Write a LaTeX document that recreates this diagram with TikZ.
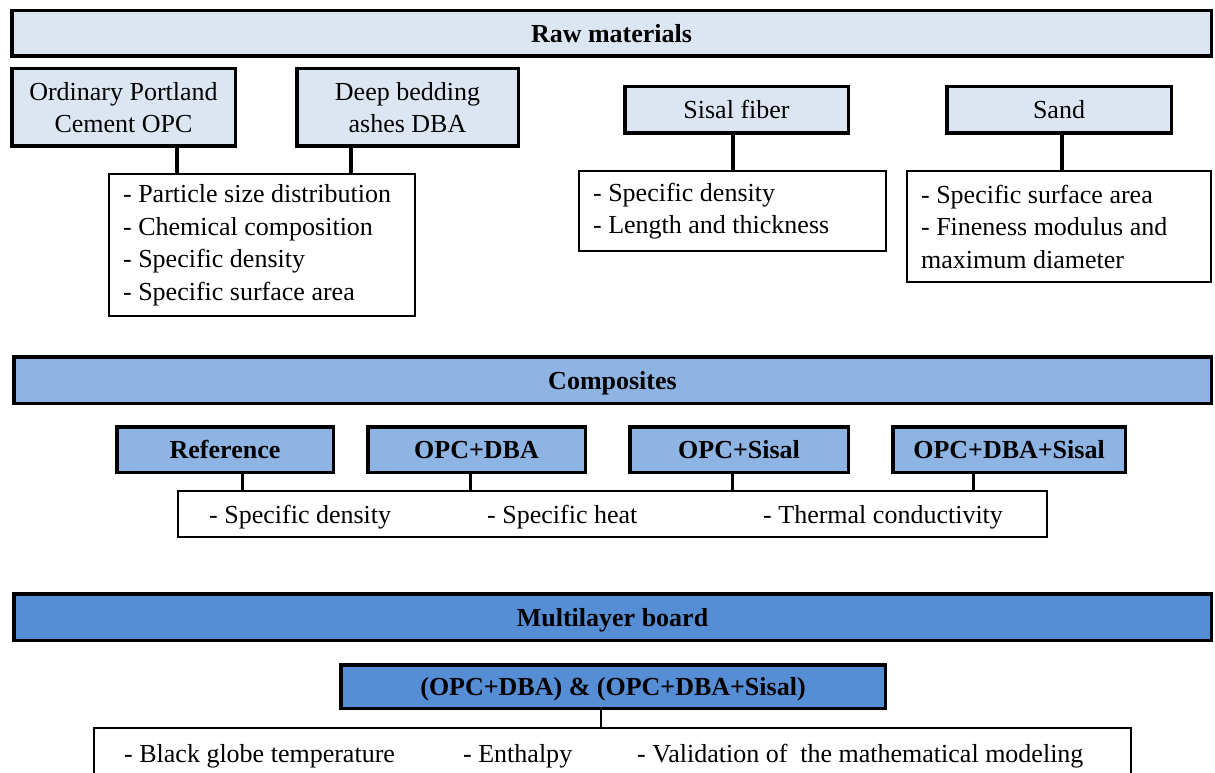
\documentclass[tikz,border=0pt]{standalone}
\usepackage{fontspec}
\setmainfont{Liberation Serif}
\definecolor{lightb}{HTML}{DCE6F2}
\definecolor{midb}{HTML}{8EB4E3}
\definecolor{darkb}{HTML}{558ED5}
\begin{document}
\begin{tikzpicture}[x=1pt,y=-1pt,
  every node/.style={font=\fontsize{26}{32.5}\selectfont, inner sep=0pt},
  hdr/.style={draw=black, line width=3.5pt, font=\fontsize{26}{32.5}\selectfont\bfseries, text height=18pt, text depth=0pt},
  matbox/.style={draw=black, line width=3.5pt, fill=lightb, align=center},
  compbox/.style={draw=black, line width=3.5pt, fill=midb, font=\fontsize{26}{32.5}\selectfont\bfseries, text height=18pt, text depth=0pt},
  propbox/.style={draw=black, line width=2.2pt, fill=white, inner xsep=14pt, align=flush left},
  plain/.style={anchor=base west},
  conn/.style={draw=black, line width=4pt},
  connthin/.style={draw=black, line width=3pt},
]
\useasboundingbox (0,0) rectangle (1215,773);
\clip (0,0) rectangle (1215,773);

% ---------- Raw materials ----------
\node[hdr, fill=lightb, minimum width=1199.5pt, minimum height=45.5pt] (raw) at (611.5,33.5) {Raw materials};

\node[matbox, minimum width=223.5pt, minimum height=77.5pt] (opc) at (123.5,107.5) {Ordinary Portland\\Cement OPC};
\node[matbox, minimum width=221.5pt, minimum height=77.5pt] (dba) at (407.5,107.5) {Deep bedding\\ashes DBA};
\node[propbox, minimum width=305.8pt, minimum height=141.8pt, text width=277.8pt] (p1) at (262,245)
  {\mbox{- Particle size distribution}\\\mbox{- Chemical composition}\\\mbox{- Specific density}\\\mbox{- Specific surface area}};

\node[matbox, minimum width=223.5pt, minimum height=46.5pt, text height=18pt, text depth=0pt] (sis) at (736.5,110) {Sisal fiber};
\node[propbox, minimum width=306.8pt, minimum height=79.8pt, text width=278.8pt] (sisp) at (732.5,211)
  {\mbox{- Specific density}\\\mbox{- Length and thickness}};

\node[matbox, minimum width=224.5pt, minimum height=46.5pt, text height=18pt, text depth=0pt] (sand) at (1059,110) {Sand};
\node[propbox, minimum width=303.8pt, minimum height=110.8pt, text width=275.8pt] (sandp) at (1059,226.5)
  {\mbox{- Specific surface area}\\\mbox{- Fineness modulus and}\\\mbox{maximum diameter}};

\coordinate (x1) at (177,0);
\coordinate (x2) at (351,0);
\coordinate (x3) at (733,0);
\coordinate (x4) at (1062,0);
\draw[conn] (opc.south -| x1) -- (p1.north -| x1);
\draw[conn] (dba.south -| x2) -- (p1.north -| x2);
\draw[conn] (sis.south -| x3) -- (sisp.north -| x3);
\draw[conn] (sand.south -| x4) -- (sandp.north -| x4);

% ---------- Composites ----------
\node[hdr, fill=midb, minimum width=1197.5pt, minimum height=46.5pt] (comp) at (612.5,380) {Composites};

\node[compbox, minimum width=216.5pt, minimum height=45.5pt] (ref) at (225,449.5) {Reference};
\node[compbox, minimum width=217.5pt, minimum height=45.5pt] (od) at (476.5,449.5) {OPC+DBA};
\node[compbox, minimum width=218.5pt, minimum height=45.5pt] (os) at (739,449.5) {OPC+Sisal};
\node[compbox, minimum width=232.5pt, minimum height=45.5pt] (ods) at (1009,449.5) {OPC+DBA+Sisal};

\node[draw=black, line width=2.2pt, fill=white, minimum width=868.8pt, minimum height=45.8pt] (compp) at (612.5,514) {};
\node[plain] (t1) at (209,523) {- Specific density};
\node[plain] (t2) at (487,523) {- Specific heat};
\node[plain] (t3) at (763,523) {- Thermal conductivity};

\coordinate (y1) at (242,0);
\coordinate (y2) at (470,0);
\coordinate (y3) at (732,0);
\coordinate (y4) at (973,0);
\draw[connthin] (ref.south -| y1) -- (compp.north -| y1);
\draw[connthin] (od.south -| y2) -- (compp.north -| y2);
\draw[connthin] (os.south -| y3) -- (compp.north -| y3);
\draw[connthin] (ods.south -| y4) -- (compp.north -| y4);

% ---------- Multilayer board ----------
\node[hdr, fill=darkb, minimum width=1197.5pt, minimum height=46.5pt] (multi) at (612.5,617) {Multilayer board};

\node[compbox, fill=darkb, minimum width=544.5pt, minimum height=43.5pt] (ml) at (613,686.5) {(OPC+DBA) \& (OPC+DBA+Sisal)};

\node[draw=black, line width=2.2pt, fill=white, minimum width=1036.8pt, minimum height=91.8pt] (bot) at (612.5,774) {};
\node[plain] (b1) at (124,762) {- Black globe temperature};
\node[plain] (b2) at (463,762) {- Enthalpy};
\node[plain] (b3) at (637,762) {- Validation of\ \ the mathematical modeling};

\coordinate (z1) at (601,0);
\draw[draw=black, line width=2.5pt] (ml.south -| z1) -- (bot.north -| z1);
\end{tikzpicture}
\end{document}
